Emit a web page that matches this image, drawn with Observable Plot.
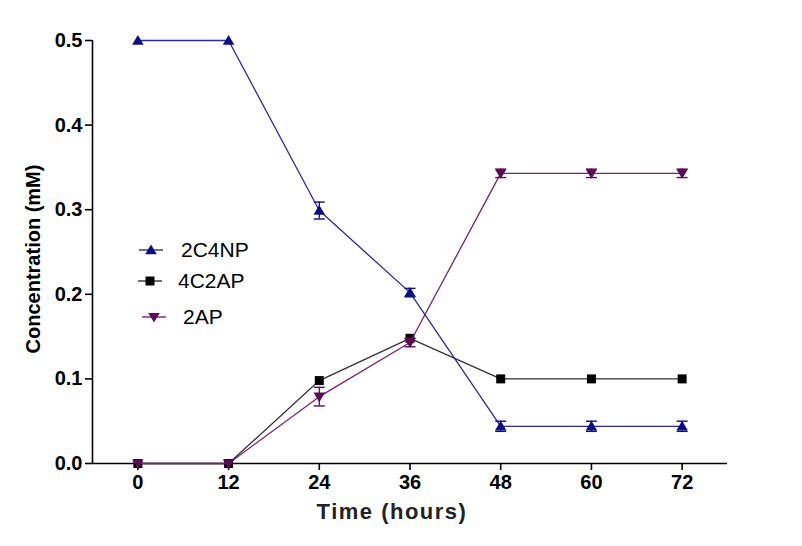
<!DOCTYPE html>
<html>
<head>
<meta charset="utf-8">
<script src="https://cdn.jsdelivr.net/npm/d3@7"></script>
<script src="https://cdn.jsdelivr.net/npm/@observablehq/plot@0.6"></script>
<style>
  html, body { margin: 0; padding: 0; background: #fff; }
  #wrap { position: relative; width: 802px; height: 546px; }
  .leg { position: absolute; display: flex; align-items: center; font-family: "Liberation Sans", Arial, sans-serif; font-size: 21px; color: #000; }
  .leg svg { display: block; }
</style>
</head>
<body>
<div id="wrap"></div>
<script>
// ---- data ----
const hours = [0, 12, 24, 36, 48, 60, 72];
const seriesNames = ["2C4NP", "4C2AP", "2AP"];
const c2C4NP = [0.5, 0.5, 0.299, 0.202, 0.044, 0.044, 0.044];
const e2C4NP = [0, 0, 0.010, 0.005, 0.006, 0.006, 0.006];
const c4C2AP = [0, 0, 0.098, 0.148, 0.1, 0.1, 0.1];
const e4C2AP = [0, 0, 0, 0, 0, 0, 0];
const c2AP = [0, 0, 0.079, 0.143, 0.343, 0.343, 0.343];
const e2AP = [0, 0, 0.011, 0.005, 0.005, 0.005, 0.005];
const xTicks = [0, 12, 24, 36, 48, 60, 72];
const yTicks = [0, 0.1, 0.2, 0.3, 0.4, 0.5];
const xDomain = [-6, 78];
const yDomain = [0, 0.5];
const xTitle = "Time (hours)";
const yTitle = "Concentration (mM)";

// ---- styles ----
const lineColors = {"2C4NP": "#2b2b96", "4C2AP": "#333333", "2AP": "#74246c"};
const markColors = {"2C4NP": "#0c0c82", "4C2AP": "#000000", "2AP": "#5c0a55"};

const rad = (size) => Math.sqrt(size / Math.PI);
const triUp = {draw(ctx, size) { const r = rad(size); ctx.moveTo(0, -r); ctx.lineTo(r * 1.05, r * 0.75); ctx.lineTo(-r * 1.05, r * 0.75); ctx.closePath(); }};
const triDown = {draw(ctx, size) { const r = rad(size); ctx.moveTo(0, r); ctx.lineTo(r * 1.05, -r * 0.75); ctx.lineTo(-r * 1.05, -r * 0.75); ctx.closePath(); }};
const square = {draw(ctx, size) { const r = rad(size); ctx.rect(-r, -r, 2 * r, 2 * r); }};
const cap = {draw(ctx, size) { const r = rad(size); ctx.moveTo(-r, 0); ctx.lineTo(r, 0); }};
const symbols = {"2C4NP": triUp, "4C2AP": square, "2AP": triDown};
const markR = {"2C4NP": 5.5, "4C2AP": 4.5, "2AP": 5.5};

const table = [];
const vals = {"2C4NP": c2C4NP, "4C2AP": c4C2AP, "2AP": c2AP};
const errs = {"2C4NP": e2C4NP, "4C2AP": e4C2AP, "2AP": e2AP};
for (const s of seriesNames) {
  hours.forEach((h, i) => table.push({series: s, hour: h, value: vals[s][i], err: errs[s][i]}));
}
const withErr = table.filter(d => d.err > 0);

const marks = [];
// axis lines
marks.push(Plot.ruleY([yDomain[0]], {stroke: "#000", strokeWidth: 1.6}));
marks.push(Plot.ruleX([xDomain[0]], {y1: yDomain[0], y2: yDomain[1], stroke: "#000", strokeWidth: 1.6}));
marks.push(Plot.axisY({ticks: yTicks, tickFormat: d3.format(".1f"), tickSize: 7, tickPadding: 3, fontSize: 20, fontWeight: "bold", label: null, strokeWidth: 1.6}));
marks.push(Plot.axisX({ticks: xTicks, tickFormat: d => String(d), tickSize: 7, tickPadding: 4, fontSize: 20, fontWeight: "bold", label: null, strokeWidth: 1.6}));
// titles
marks.push(Plot.text([yTitle], {frameAnchor: "left", rotate: -90, dx: -59, dy: 7, fontSize: 20, fontWeight: "bold", text: d => d, textAnchor: "middle"}));
marks.push(Plot.text([xTitle], {frameAnchor: "bottom", dx: -18, dy: 55, fontSize: 22, fontWeight: "bold", text: d => d, fill: "#222"}));

for (const s of ["4C2AP", "2AP", "2C4NP"]) {
  const data = table.filter(d => d.series === s);
  const ed = withErr.filter(d => d.series === s);
  marks.push(Plot.line(data, {x: "hour", y: "value", stroke: lineColors[s], strokeWidth: 1.3}));
  marks.push(Plot.ruleX(ed, {x: "hour", y1: d => d.value - d.err, y2: d => d.value + d.err, stroke: markColors[s], strokeWidth: 1.3}));
  marks.push(Plot.dot(ed, {x: "hour", y: d => d.value + d.err, symbol: cap, r: 5.5, stroke: markColors[s], strokeWidth: 1.4, fill: "none"}));
  marks.push(Plot.dot(ed, {x: "hour", y: d => d.value - d.err, symbol: cap, r: 5.5, stroke: markColors[s], strokeWidth: 1.4, fill: "none"}));
  marks.push(Plot.dot(data, {x: "hour", y: "value", symbol: symbols[s], r: markR[s], fill: markColors[s], stroke: "none"}));
}

const chart = Plot.plot({
  width: 802,
  height: 546,
  marginLeft: 92,
  marginRight: 75,
  marginTop: 40,
  marginBottom: 83,
  style: {fontFamily: "'Liberation Sans', Arial, sans-serif", background: "#fff", color: "#000", overflow: "visible"},
  x: {domain: xDomain, axis: null},
  y: {domain: yDomain, axis: null},
  marks
});
d3.select(chart).selectAll("text").filter(function () { return this.textContent === xTitle; }).style("letter-spacing", "1.5px");
const wrap = document.getElementById("wrap");
wrap.appendChild(chart);

// ---- legend (HTML overlay) ----
const legendRows = [
  {name: "2C4NP", top: 250, lineLeft: 139, textLeft: 181},
  {name: "4C2AP", top: 281, lineLeft: 138, textLeft: 178},
  {name: "2AP", top: 317, lineLeft: 142, textLeft: 183}
];
for (const row of legendRows) {
  const div = document.createElement("div");
  div.className = "leg";
  div.style.left = row.lineLeft + "px";
  div.style.top = (row.top - 13) + "px";
  div.style.height = "26px";
  const w = row.textLeft - row.lineLeft;
  const path = d3.path();
  symbols[row.name].draw(path, markR[row.name] ** 2 * Math.PI);
  div.innerHTML = `<svg width="${w}" height="26"><line x1="0" x2="24" y1="13" y2="13" stroke="${lineColors[row.name]}" stroke-width="1.4"/><path transform="translate(12,13)" d="${path.toString()}" fill="${markColors[row.name]}"/></svg><span>${row.name}</span>`;
  wrap.appendChild(div);
}
</script>
</body>
</html>
